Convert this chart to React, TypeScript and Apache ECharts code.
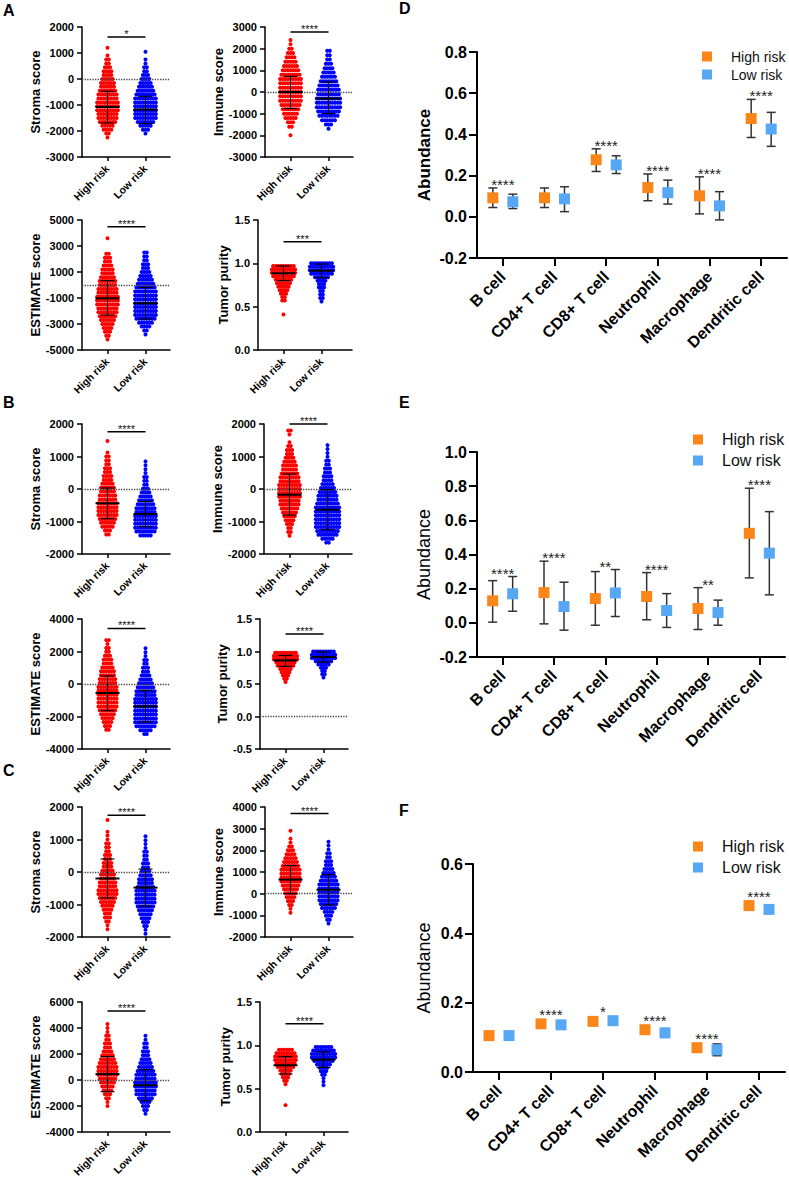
import React, { useEffect, useRef } from 'react';
import * as echarts from 'echarts';

const GROUPS = ['High risk', 'Low risk'];
const CELLS = ['B cell', 'CD4+ T cell', 'CD8+ T cell', 'Neutrophil', 'Macrophage', 'Dendritic cell'];

// ---------- Dot plots: dots per row (top row first), row start values, row step, mean, SD limits ----------
// A
const aStromaTicks = [-3000, -2000, -1000, 0, 1000, 2000];
const aStromaHigh = [1, 0, 1, 2, 2, 3, 4, 4, 5, 6, 6, 7, 8, 8, 9, 9, 9, 8, 8, 7, 5, 4, 2, 1];
const aStromaLow = [1, 0, 1, 1, 2, 2, 3, 4, 5, 6, 7, 8, 9, 9, 9, 9, 9, 9, 7, 5, 3, 1];
const aStromaRowTop = [1200, 1050];
const aStromaStep = 150;
const aStromaMean = [-1077, -1177];
const aStromaLo = [-1692, -1715];
const aStromaHi = [-473, -665];
const aStromaSig = '*';
const aStromaSigY = 1615;

const aImmuneTicks = [-3000, -2000, -1000, 0, 1000, 2000, 3000];
const aImmuneHigh = [1, 1, 2, 3, 4, 5, 6, 7, 8, 9, 9, 9, 9, 9, 9, 8, 7, 6, 5, 3, 2, 0, 1];
const aImmuneLow = [2, 2, 2, 3, 4, 5, 6, 7, 8, 9, 9, 10, 10, 10, 9, 8, 6, 3, 1];
const aImmuneRowTop = [2400, 1900];
const aImmuneStep = 200;
const aImmuneMean = [0, -305];
const aImmuneLo = [-765, -998];
const aImmuneHi = [725, 462];
const aImmuneSig = '****';
const aImmuneSigY = 2770;

const aEstimateTicks = [-5000, -3000, -1000, 1000, 3000, 5000];
const aEstimateHigh = [1, 0, 0, 0, 2, 3, 3, 4, 5, 5, 6, 7, 7, 8, 8, 9, 9, 9, 8, 8, 7, 6, 5, 4, 3, 2, 1];
const aEstimateLow = [2, 2, 2, 3, 3, 4, 5, 6, 7, 8, 9, 9, 9, 9, 9, 9, 9, 8, 6, 4, 2, 1];
const aEstimateRowTop = [3600, 2500];
const aEstimateStep = 300;
const aEstimateMean = [-1026, -1410];
const aEstimateLo = [-2308, -2615];
const aEstimateHi = [333, -180];
const aEstimateSig = '****';
const aEstimateSigY = 4487;

const aPurityTicks = [0, 0.5, 1, 1.5];
const aPurityHigh = [9, 10, 10, 9, 7, 6, 5, 4, 3, 2, 2, 0, 0, 0, 1];
const aPurityLow = [9, 10, 10, 9, 6, 4, 3, 3, 2, 2, 2, 1];
const aPurityRowTop = [0.97, 1.0];
const aPurityStep = 0.04;
const aPurityMean = [0.885, 0.915];
const aPurityLo = [0.8, 0.834];
const aPurityHi = [0.969, 0.992];
const aPuritySig = '***';
const aPuritySigY = 1.25;

// B
const bStromaTicks = [-2000, -1000, 0, 1000, 2000];
const bStromaHigh = [1, 0, 0, 1, 2, 2, 2, 3, 3, 4, 4, 5, 6, 6, 7, 7, 8, 8, 8, 8, 7, 6, 5, 3, 2];
const bStromaLow = [1, 1, 1, 1, 2, 2, 2, 3, 4, 5, 6, 7, 8, 8, 9, 9, 9, 9, 8, 5];
const bStromaRowTop = [1480, 850];
const bStromaStep = 120;
const bStromaMean = [-440, -769];
const bStromaLo = [-914, -1160];
const bStromaHi = [31, -382];
const bStromaSig = '****';
const bStromaSigY = 1763;

const bImmuneTicks = [-2000, -1000, 0, 1000, 2000];
const bImmuneHigh = [2, 1, 0, 1, 2, 3, 3, 4, 5, 6, 6, 7, 8, 8, 9, 9, 9, 9, 8, 8, 7, 6, 5, 4, 3, 2, 2, 1];
const bImmuneLow = [1, 1, 1, 1, 2, 2, 3, 3, 4, 4, 5, 6, 7, 8, 8, 9, 10, 10, 10, 10, 10, 10, 9, 8, 5, 2];
const bImmuneRowTop = [1800, 1350];
const bImmuneStep = 120;
const bImmuneMean = [-175, -637];
const bImmuneLo = [-800, -1252];
const bImmuneHi = [462, -22];
const bImmuneSig = '****';
const bImmuneSigY = 2000;

const bEstimateTicks = [-4000, -2000, 0, 2000, 4000];
const bEstimateHigh = [2, 1, 2, 2, 3, 4, 4, 5, 6, 6, 7, 7, 8, 8, 8, 8, 8, 8, 7, 6, 5, 4, 3, 2];
const bEstimateLow = [1, 1, 1, 2, 2, 3, 3, 4, 5, 6, 7, 8, 8, 9, 9, 9, 9, 9, 9, 9, 8, 5, 2];
const bEstimateRowTop = [2700, 2200];
const bEstimateStep = 240;
const bEstimateMean = [-554, -1378];
const bEstimateLo = [-1643, -2338];
const bEstimateHi = [492, -394];
const bEstimateSig = '****';
const bEstimateSigY = 3422;

const bPurityTicks = [-0.5, 0, 0.5, 1, 1.5];
const bPurityHigh = [9, 10, 10, 8, 7, 5, 4, 3, 2, 1];
const bPurityLow = [9, 10, 10, 7, 5, 3, 2, 2, 1];
const bPurityRowTop = [0.98, 1.0];
const bPurityStep = 0.05;
const bPurityMean = [0.863, 0.915];
const bPurityLo = [0.771, 0.838];
const bPurityHi = [0.94, 0.992];
const bPuritySig = '****';
const bPuritySigY = 1.27;

// C
const cStromaTicks = [-2000, -1000, 0, 1000, 2000];
const cStromaHigh = [1, 0, 0, 1, 1, 1, 2, 2, 2, 3, 3, 4, 4, 5, 6, 6, 7, 7, 8, 8, 7, 6, 5, 4, 3, 3, 2, 1, 1];
const cStromaLow = [1, 1, 1, 1, 2, 2, 2, 3, 3, 4, 5, 6, 6, 7, 8, 8, 8, 8, 7, 6, 5, 4, 3, 2, 1, 1];
const cStromaRowTop = [1600, 1100];
const cStromaStep = 120;
const cStromaMean = [-200, -480];
const cStromaLo = [-800, -1050];
const cStromaHi = [400, 90];
const cStromaSig = '****';
const cStromaSigY = 1750;

const cImmuneTicks = [-2000, -1000, 0, 1000, 2000, 3000, 4000];
const cImmuneHigh = [1, 0, 1, 1, 2, 3, 4, 5, 6, 7, 8, 8, 8, 8, 7, 6, 5, 4, 3, 2, 1, 1];
const cImmuneLow = [1, 1, 1, 2, 2, 3, 3, 4, 5, 6, 7, 8, 8, 8, 8, 8, 7, 6, 4, 3, 2, 1];
const cImmuneRowTop = [2900, 2400];
const cImmuneStep = 180;
const cImmuneMean = [650, 180];
const cImmuneLo = [0, -520];
const cImmuneHi = [1300, 880];
const cImmuneSig = '****';
const cImmuneSigY = 3700;

const cEstimateTicks = [-4000, -2000, 0, 2000, 4000, 6000];
const cEstimateHigh = [1, 1, 1, 2, 2, 3, 3, 4, 5, 6, 7, 8, 8, 8, 7, 6, 5, 4, 3, 2, 1, 1];
const cEstimateLow = [1, 1, 2, 2, 3, 3, 4, 5, 6, 7, 8, 8, 9, 9, 8, 8, 6, 4, 3, 2, 1];
const cEstimateRowTop = [4300, 3400];
const cEstimateStep = 300;
const cEstimateMean = [450, -400];
const cEstimateLo = [-900, -1600];
const cEstimateHi = [1800, 800];
const cEstimateSig = '****';
const cEstimateSigY = 5300;

const cPurityTicks = [0, 0.5, 1, 1.5];
const cPurityHigh = [6, 8, 9, 9, 8, 7, 5, 4, 3, 2, 1, 0, 0, 0, 0, 0, 1];
const cPurityLow = [7, 9, 10, 10, 8, 6, 4, 3, 2, 1, 1, 1];
const cPurityRowTop = [0.95, 0.98];
const cPurityStep = 0.04;
const cPurityMean = [0.77, 0.835];
const cPurityLo = [0.67, 0.745];
const cPurityHi = [0.87, 0.925];
const cPuritySig = '****';
const cPuritySigY = 1.25;

// ---------- Immune cell abundance (D, E, F) ----------
const dTicks = [-0.2, 0, 0.2, 0.4, 0.6, 0.8];
const dHighMean = [0.092, 0.092, 0.277, 0.142, 0.102, 0.477];
const dHighLo = [0.045, 0.045, 0.22, 0.078, 0.014, 0.385];
const dHighHi = [0.14, 0.14, 0.33, 0.208, 0.194, 0.57];
const dLowMean = [0.073, 0.087, 0.252, 0.117, 0.053, 0.426];
const dLowLo = [0.04, 0.025, 0.21, 0.062, -0.015, 0.342];
const dLowHi = [0.11, 0.146, 0.296, 0.178, 0.122, 0.507];
const dSig = ['****', '', '****', '****', '****', '****'];

const eTicks = [-0.2, 0, 0.2, 0.4, 0.6, 0.8, 1.0];
const eHighMean = [0.129, 0.177, 0.142, 0.154, 0.084, 0.524];
const eHighLo = [0.004, -0.006, -0.014, 0.018, -0.039, 0.263];
const eHighHi = [0.247, 0.361, 0.3, 0.294, 0.206, 0.788];
const eLowMean = [0.17, 0.095, 0.175, 0.072, 0.06, 0.408];
const eLowLo = [0.068, -0.043, 0.037, -0.027, -0.014, 0.164];
const eLowHi = [0.271, 0.238, 0.312, 0.171, 0.133, 0.651];
const eSig = ['****', '****', '**', '****', '**', '****'];

const fTicks = [0, 0.2, 0.4, 0.6];
const fHighMean = [0.105, 0.139, 0.146, 0.122, 0.07, 0.48];
const fHighLo = [0.103, 0.137, 0.144, 0.115, 0.058, 0.478];
const fHighHi = [0.107, 0.141, 0.148, 0.13, 0.082, 0.482];
const fLowMean = [0.105, 0.136, 0.148, 0.113, 0.064, 0.469];
const fLowLo = [0.103, 0.134, 0.146, 0.1, 0.047, 0.466];
const fLowHi = [0.107, 0.138, 0.15, 0.125, 0.081, 0.472];
const fSig = ['', '****', '*', '****', '****', '****'];

// ---------- assembled panel lists ----------
const dotPanels = [
  { yName: 'Stroma score', ticks: aStromaTicks, high: aStromaHigh, low: aStromaLow, rowTop: aStromaRowTop, step: aStromaStep, mean: aStromaMean, lo: aStromaLo, hi: aStromaHi, sig: aStromaSig, sigY: aStromaSigY },
  { yName: 'Immune score', ticks: aImmuneTicks, high: aImmuneHigh, low: aImmuneLow, rowTop: aImmuneRowTop, step: aImmuneStep, mean: aImmuneMean, lo: aImmuneLo, hi: aImmuneHi, sig: aImmuneSig, sigY: aImmuneSigY },
  { yName: 'ESTIMATE score', ticks: aEstimateTicks, high: aEstimateHigh, low: aEstimateLow, rowTop: aEstimateRowTop, step: aEstimateStep, mean: aEstimateMean, lo: aEstimateLo, hi: aEstimateHi, sig: aEstimateSig, sigY: aEstimateSigY },
  { yName: 'Tumor purity', ticks: aPurityTicks, high: aPurityHigh, low: aPurityLow, rowTop: aPurityRowTop, step: aPurityStep, mean: aPurityMean, lo: aPurityLo, hi: aPurityHi, sig: aPuritySig, sigY: aPuritySigY },
  { yName: 'Stroma score', ticks: bStromaTicks, high: bStromaHigh, low: bStromaLow, rowTop: bStromaRowTop, step: bStromaStep, mean: bStromaMean, lo: bStromaLo, hi: bStromaHi, sig: bStromaSig, sigY: bStromaSigY },
  { yName: 'Immune score', ticks: bImmuneTicks, high: bImmuneHigh, low: bImmuneLow, rowTop: bImmuneRowTop, step: bImmuneStep, mean: bImmuneMean, lo: bImmuneLo, hi: bImmuneHi, sig: bImmuneSig, sigY: bImmuneSigY },
  { yName: 'ESTIMATE score', ticks: bEstimateTicks, high: bEstimateHigh, low: bEstimateLow, rowTop: bEstimateRowTop, step: bEstimateStep, mean: bEstimateMean, lo: bEstimateLo, hi: bEstimateHi, sig: bEstimateSig, sigY: bEstimateSigY },
  { yName: 'Tumor purity', ticks: bPurityTicks, high: bPurityHigh, low: bPurityLow, rowTop: bPurityRowTop, step: bPurityStep, mean: bPurityMean, lo: bPurityLo, hi: bPurityHi, sig: bPuritySig, sigY: bPuritySigY },
  { yName: 'Stroma score', ticks: cStromaTicks, high: cStromaHigh, low: cStromaLow, rowTop: cStromaRowTop, step: cStromaStep, mean: cStromaMean, lo: cStromaLo, hi: cStromaHi, sig: cStromaSig, sigY: cStromaSigY },
  { yName: 'Immune score', ticks: cImmuneTicks, high: cImmuneHigh, low: cImmuneLow, rowTop: cImmuneRowTop, step: cImmuneStep, mean: cImmuneMean, lo: cImmuneLo, hi: cImmuneHi, sig: cImmuneSig, sigY: cImmuneSigY },
  { yName: 'ESTIMATE score', ticks: cEstimateTicks, high: cEstimateHigh, low: cEstimateLow, rowTop: cEstimateRowTop, step: cEstimateStep, mean: cEstimateMean, lo: cEstimateLo, hi: cEstimateHi, sig: cEstimateSig, sigY: cEstimateSigY },
  { yName: 'Tumor purity', ticks: cPurityTicks, high: cPurityHigh, low: cPurityLow, rowTop: cPurityRowTop, step: cPurityStep, mean: cPurityMean, lo: cPurityLo, hi: cPurityHi, sig: cPuritySig, sigY: cPuritySigY },
];

const abundancePanels = [
  { ticks: dTicks, hm: dHighMean, hl: dHighLo, hh: dHighHi, lm: dLowMean, ll: dLowLo, lh: dLowHi, sig: dSig },
  { ticks: eTicks, hm: eHighMean, hl: eHighLo, hh: eHighHi, lm: eLowMean, ll: eLowLo, lh: eLowHi, sig: eSig },
  { ticks: fTicks, hm: fHighMean, hl: fHighLo, hh: fHighHi, lm: fLowMean, ll: fLowLo, lh: fLowHi, sig: fSig },
];

// ---------- layout (px) ----------
// [left, top, width, nameGap]
const dotLayout = [
  [82, 27, 88, 35.5], [265, 27, 88, 36.5], [82, 220, 88, 35.5], [258, 220, 94, 28.5],
  [82, 424, 88, 35.5], [264, 424, 88, 35.5], [82, 619, 88, 35.5], [260, 619, 88, 27.5],
  [82, 807, 88, 35.5], [265, 807, 88, 36.5], [82, 1002, 88, 35.5], [260, 1002, 88, 28],
];
const DOT_H = 130;
const CENTERS = [25.5, 63.5];
// [left, top, width, height, nameGap, legendTop, legendFont, legendGap, nameBold, legendLeft]
const abLayout = [
  [477, 52, 310, 206, 44, 44.5, 14, 4, 1, 697],
  [477, 452, 308, 205, 44, 426.5, 16, 5, 0, 688],
  [473, 864, 312, 208, 40, 833.5, 16, 5, 0, 688],
];
const letters = [
  ['A', 3, 2], ['B', 3, 394], ['C', 3, 762], ['D', 399, 0], ['E', 399, 394], ['F', 399, 802],
];

const FONT = 'Liberation Sans, Arial, Helvetica, sans-serif';
const ORANGE = '#FA8619';
const SKY = '#56A8F5';

function swarm(center: number, top: number, step: number, counts: number[]) {
  const pts: number[][] = [];
  counts.forEach((n, i) => {
    const y = top - i * step;
    for (let k = 0; k < n; k++) pts.push([center + (k - (n - 1) / 2) * 2.6, y]);
  });
  return pts;
}

function buildOption() {
  const grid: any[] = [];
  const xAxis: any[] = [];
  const yAxis: any[] = [];
  const series: any[] = [];
  const legend: any[] = [];

  dotPanels.forEach((p, i) => {
    const [left, top, width, nameGap] = dotLayout[i];
    const decimals = p.ticks[p.ticks.length - 1] <= 2;
    grid.push({ left, top, width, height: DOT_H, containLabel: false, outerBoundsMode: 'none' });
    xAxis.push({
      gridIndex: i, type: 'value', min: 0, max: width,
      axisLine: { show: true, onZero: false, lineStyle: { color: '#000', width: 1.5 } },
      axisTick: { show: true, customValues: CENTERS, length: 4, lineStyle: { color: '#000', width: 1.5 } },
      axisLabel: {
        show: true, customValues: CENTERS, rotate: 45, margin: 10,
        formatter: (v: number) => GROUPS[Math.abs(v - CENTERS[0]) < 1 ? 0 : 1],
        fontSize: 10.5, fontWeight: 'bold', color: '#000',
      },
      splitLine: { show: false },
    });
    yAxis.push({
      gridIndex: i, type: 'value', min: p.ticks[0], max: p.ticks[p.ticks.length - 1],
      axisLine: { show: true, onZero: false, lineStyle: { color: '#000', width: 1.5 } },
      axisTick: { show: true, customValues: p.ticks, length: 5, lineStyle: { color: '#000', width: 1.5 } },
      axisLabel: {
        show: true, customValues: p.ticks, margin: 8,
        formatter: (v: number) => (decimals ? v.toFixed(1) : String(Math.round(v))),
        fontSize: 11, fontWeight: 'bold', color: '#000',
      },
      splitLine: { show: false },
      name: p.yName, nameLocation: 'middle', nameGap,
      nameTextStyle: { fontSize: 13, fontWeight: 'bold', color: '#000' },
    });
    const showZero = p.ticks[0] < 0;
    series.push({
      type: 'scatter', xAxisIndex: i, yAxisIndex: i, symbol: 'circle', symbolSize: 4, silent: true,
      itemStyle: { color: '#FF0000', opacity: 1 }, z: 2,
      data: swarm(CENTERS[0], p.rowTop[0], p.step, p.high),
      markLine: showZero ? {
        silent: true, symbol: ['none', 'none'], label: { show: false },
        lineStyle: { type: 'dotted', color: '#444', width: 1.3 }, data: [{ yAxis: 0 }],
      } : undefined,
    });
    series.push({
      type: 'scatter', xAxisIndex: i, yAxisIndex: i, symbol: 'circle', symbolSize: 4, silent: true,
      itemStyle: { color: '#0000FF', opacity: 1 }, z: 2,
      data: swarm(CENTERS[1], p.rowTop[1], p.step, p.low),
    });
    series.push({
      type: 'custom', xAxisIndex: i, yAxisIndex: i, silent: true, z: 5,
      data: [0, 1].map((g) => [CENTERS[g], p.mean[g], p.lo[g], p.hi[g]]),
      renderItem: (params: any, api: any) => {
        const cx = api.value(0);
        const m = api.coord([cx, api.value(1)]);
        const lo = api.coord([cx, api.value(2)]);
        const hi = api.coord([cx, api.value(3)]);
        const st = { stroke: '#000', lineWidth: 1.1 };
        return {
          type: 'group',
          children: [
            { type: 'line', shape: { x1: m[0] - 12, y1: m[1], x2: m[0] + 12, y2: m[1] }, style: { stroke: '#000', lineWidth: 2 } },
            { type: 'line', shape: { x1: lo[0], y1: lo[1], x2: hi[0], y2: hi[1] }, style: st },
            { type: 'line', shape: { x1: lo[0] - 7, y1: lo[1], x2: lo[0] + 7, y2: lo[1] }, style: st },
            { type: 'line', shape: { x1: hi[0] - 7, y1: hi[1], x2: hi[0] + 7, y2: hi[1] }, style: st },
          ],
        };
      },
    });
    series.push({
      type: 'custom', xAxisIndex: i, yAxisIndex: i, silent: true, z: 5,
      data: [[CENTERS[0], CENTERS[1], p.sigY]],
      renderItem: (params: any, api: any) => {
        const a = api.coord([api.value(0), api.value(2)]);
        const b = api.coord([api.value(1), api.value(2)]);
        return {
          type: 'group',
          children: [
            { type: 'line', shape: { x1: a[0], y1: a[1], x2: b[0], y2: b[1] }, style: { stroke: '#000', lineWidth: 1.5 } },
            {
              type: 'text', x: (a[0] + b[0]) / 2, y: a[1] - 3,
              style: { text: p.sig, fill: '#111', font: `11px ${FONT}`, align: 'center', verticalAlign: 'middle', textAlign: 'center', textVerticalAlign: 'middle' },
            },
          ],
        };
      },
    });
  });

  abundancePanels.forEach((p, j) => {
    const gi = dotPanels.length + j;
    const [left, top, width, height, nameGap, legTop, legFont, legGap, nameBold, legLeft] = abLayout[j];
    grid.push({ left, top, width, height, containLabel: false, outerBoundsMode: 'none' });
    xAxis.push({
      gridIndex: gi, type: 'category', data: CELLS, boundaryGap: true,
      axisLine: { show: true, onZero: false, lineStyle: { color: '#000', width: 2 } },
      axisTick: { show: true, alignWithLabel: true, length: 8, lineStyle: { color: '#000', width: 2 } },
      axisLabel: { show: true, interval: 0, rotate: 45, margin: 16, fontSize: 16, fontWeight: 'bold', color: '#000' },
      splitLine: { show: false },
    });
    yAxis.push({
      gridIndex: gi, type: 'value', min: p.ticks[0], max: p.ticks[p.ticks.length - 1],
      axisLine: { show: true, onZero: false, lineStyle: { color: '#000', width: 2 } },
      axisTick: { show: true, customValues: p.ticks, length: 8, lineStyle: { color: '#000', width: 2 } },
      axisLabel: { show: true, customValues: p.ticks, margin: 10, formatter: (v: number) => v.toFixed(1), fontSize: 16, fontWeight: 'bold', color: '#000' },
      splitLine: { show: false },
      name: 'Abundance', nameLocation: 'middle', nameGap,
      nameTextStyle: { fontSize: nameBold ? 17 : 18, fontWeight: nameBold ? 'bold' : 'normal', color: '#000' },
    });
    const bars = (lo: number[], hi: number[], off: number) => ({
      type: 'custom', xAxisIndex: gi, yAxisIndex: gi, silent: true, z: 2,
      data: CELLS.map((_, k) => [k, lo[k], hi[k]]),
      renderItem: (params: any, api: any) => {
        const a = api.coord([api.value(0), api.value(1)]);
        const b = api.coord([api.value(0), api.value(2)]);
        const x = a[0] + off;
        const st = { stroke: '#333', lineWidth: 1.5 };
        return {
          type: 'group',
          children: [
            { type: 'line', shape: { x1: x, y1: a[1], x2: x, y2: b[1] }, style: st },
            { type: 'line', shape: { x1: x - 4.5, y1: a[1], x2: x + 4.5, y2: a[1] }, style: st },
            { type: 'line', shape: { x1: x - 4.5, y1: b[1], x2: x + 4.5, y2: b[1] }, style: st },
          ],
        };
      },
    });
    series.push(bars(p.hl, p.hh, -10));
    series.push(bars(p.ll, p.lh, 10));
    series.push({
      name: 'High risk', type: 'scatter', xAxisIndex: gi, yAxisIndex: gi, symbol: 'rect', symbolSize: 11,
      symbolOffset: [-10, 0], itemStyle: { color: ORANGE, opacity: 1 }, z: 4, silent: true, data: p.hm,
    });
    series.push({
      name: 'Low risk', type: 'scatter', xAxisIndex: gi, yAxisIndex: gi, symbol: 'rect', symbolSize: 11,
      symbolOffset: [10, 0], itemStyle: { color: SKY, opacity: 1 }, z: 4, silent: true, data: p.lm,
    });
    series.push({
      type: 'custom', xAxisIndex: gi, yAxisIndex: gi, silent: true, z: 6,
      data: CELLS.map((_, k) => [k, Math.max(p.hh[k], p.lh[k]), Math.max(p.hm[k], p.lm[k])]),
      renderItem: (params: any, api: any) => {
        const k = api.value(0);
        const text = p.sig[k];
        if (!text) return null;
        const a = api.coord([k, api.value(1)]);
        const b = api.coord([k, api.value(2)]);
        const y = Math.min(a[1], b[1] - 5.5) - 3.5;
        return {
          type: 'text', x: a[0], y,
          style: { text, fill: '#222', font: `15px ${FONT}`, align: 'center', verticalAlign: 'middle', textAlign: 'center', textVerticalAlign: 'middle' },
        };
      },
    });
    legend.push({
      data: ['High risk', 'Low risk'], orient: 'vertical', left: legLeft, top: legTop,
      icon: 'rect', itemWidth: 10, itemHeight: 10, itemGap: legGap, selectedMode: false,
      textStyle: { fontSize: legFont, color: '#111', fontFamily: FONT, padding: [0, 0, 0, 14] },
    });
  });

  return {
    animation: false,
    backgroundColor: '#ffffff',
    textStyle: { fontFamily: FONT },
    grid, xAxis, yAxis, series, legend,
    graphic: letters.map(([t, x, y]) => ({
      type: 'text', left: x, top: y, silent: true,
      style: { text: t, font: `bold 16px ${FONT}`, fill: '#000' },
    })),
  };
}

export default function App() {
  const ref = useRef<HTMLDivElement>(null);
  useEffect(() => {
    document.body.style.margin = '0';
    const chart = echarts.init(ref.current as HTMLDivElement, null, { renderer: 'svg' });
    chart.setOption(buildOption() as any);
    return () => chart.dispose();
  }, []);
  return <div ref={ref} style={{ width: 789, height: 1193 }} />;
}
